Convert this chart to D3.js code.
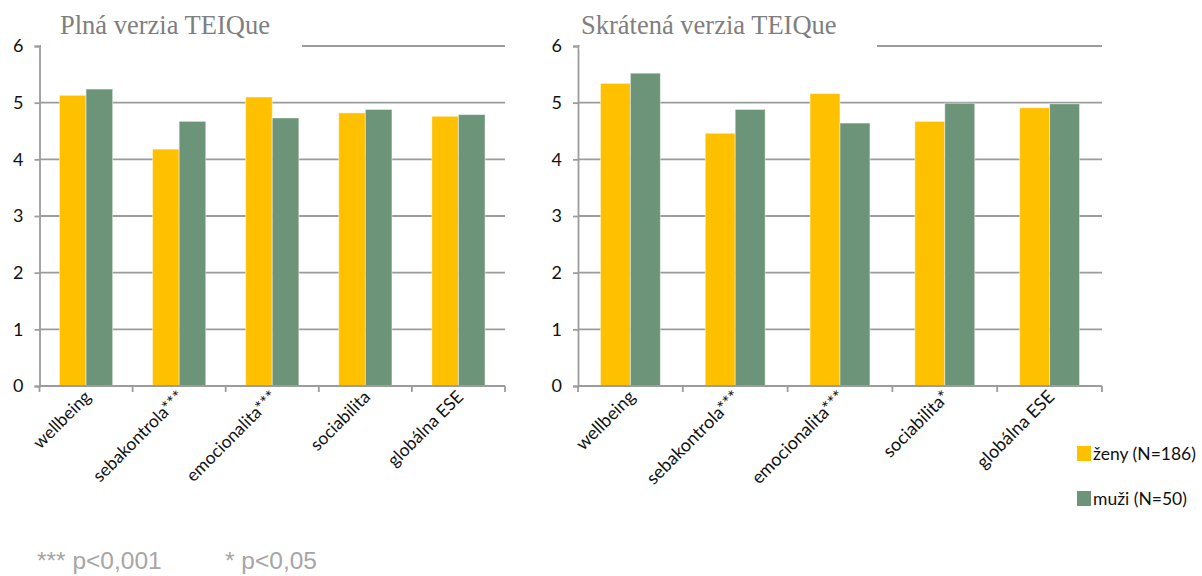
<!DOCTYPE html>
<html>
<head>
<meta charset="utf-8">
<script src="https://cdn.jsdelivr.net/npm/d3@7"></script>
<style>
  html, body { margin: 0; padding: 0; background: #fff; }
  svg { display: block; }
</style>
</head>
<body>
<svg id="chart" width="1202" height="576"></svg>
<script>
// Category labels (significance marks differ between the two versions)
const categoriesFull  = ["wellbeing", "sebakontrola***", "emocionalita***", "sociabilita", "globálna ESE"];
const categoriesShort = ["wellbeing", "sebakontrola***", "emocionalita***", "sociabilita*", "globálna ESE"];

// Mean scores, full TEIQue
const fullWomen = [5.13, 4.18, 5.10, 4.82, 4.76];
const fullMen   = [5.24, 4.67, 4.73, 4.88, 4.79];

// Mean scores, short TEIQue
const shortWomen = [5.34, 4.46, 5.16, 4.67, 4.91];
const shortMen   = [5.52, 4.88, 4.64, 4.99, 4.98];

const seriesNames = ["ženy (N=186)", "muži (N=50)"];
const yTicks = [0, 1, 2, 3, 4, 5, 6];
const panelTitles = ["Plná verzia TEIQue", "Skrátená verzia TEIQue"];
const footnote = ["*** p<0,001", "* p<0,05"];

const colors = ["#FFC000", "#6B9479"];
const gridColor = "#9c9c9c";
const labelFont = "Lato, 'Open Sans', sans-serif";

const svg = d3.select("#chart");

function drawPanel(cfg) {
  const { x0, x1, title, titleX, titleCoverEnd, cats, a, b, labelSize } = cfg;
  const yTop = 46, yBot = 386;
  const g = svg.append("g");

  const y = d3.scaleLinear().domain([0, 6]).range([yBot, yTop]);
  const x = d3.scaleBand().domain(cats).range([x0, x1])
    .paddingInner(0.4286).paddingOuter(0.2143);
  const xs = d3.scaleBand().domain([0, 1]).range([0, x.bandwidth()]);

  // horizontal gridlines
  g.selectAll("line.grid").data(yTicks.filter(d => d > 0)).join("line")
    .attr("class", "grid")
    .attr("x1", x0).attr("x2", x1)
    .attr("y1", d => y(d)).attr("y2", d => y(d))
    .attr("stroke", gridColor).attr("stroke-width", 1.8);

  // bars
  const rows = cats.map((c, i) => ({ c, v: [a[i], b[i]] }));
  const grp = g.selectAll("g.cat").data(rows).join("g")
    .attr("transform", d => `translate(${x(d.c)},0)`);
  grp.selectAll("rect").data(d => d.v.map((v, k) => ({ v, k }))).join("rect")
    .attr("x", d => xs(d.k))
    .attr("width", xs.bandwidth())
    .attr("y", d => y(d.v))
    .attr("height", d => y(0) - y(d.v))
    .attr("fill", d => colors[d.k])
    .attr("stroke", "#ffffff").attr("stroke-opacity", 0.45).attr("stroke-width", 1);

  // y axis
  const yAxis = d3.axisLeft(y).tickValues(yTicks).tickSize(5).tickPadding(11).tickFormat(d3.format("d"));
  const ya = g.append("g").attr("transform", `translate(${x0},0)`).call(yAxis);
  ya.select(".domain").attr("stroke", gridColor).attr("stroke-width", 1.8);
  ya.selectAll(".tick line").attr("stroke", gridColor).attr("stroke-width", 1.8);
  ya.selectAll(".tick text").attr("font-family", labelFont).attr("font-size", 18)
    .attr("fill", "#111");

  // x axis with ticks at category boundaries
  const bounds = d3.range(cats.length + 1).map(i => x0 + i * x.step());
  g.append("line").attr("x1", x0).attr("x2", x1).attr("y1", yBot).attr("y2", yBot)
    .attr("stroke", gridColor).attr("stroke-width", 1.8);
  g.selectAll("line.xt").data(bounds).join("line").attr("class", "xt")
    .attr("x1", d => d).attr("x2", d => d).attr("y1", yBot).attr("y2", yBot + 6)
    .attr("stroke", gridColor).attr("stroke-width", 1.8);

  // rotated category labels
  g.selectAll("text.cat").data(cats).join("text").attr("class", "cat")
    .attr("transform", d => `translate(${x(d) + x.bandwidth() / 2 + 6},${yBot + 12}) rotate(-45)`)
    .attr("text-anchor", "end")
    .attr("font-family", labelFont).attr("font-size", labelSize)
    .attr("fill", "#111")
    .text(d => d);

  // title box covering the top of the plot area
  g.append("rect").attr("x", x0 + 1.5).attr("y", 6).attr("width", titleCoverEnd - x0 - 1.5).attr("height", 44)
    .attr("fill", "#fff");
  g.append("text").attr("x", titleX).attr("y", 34)
    .attr("font-family", "'Liberation Serif', 'Times New Roman', serif")
    .attr("font-size", 26.5).attr("fill", "#7f7f7f")
    .text(title);
}

drawPanel({ x0: 39.5, x1: 505, title: panelTitles[0], titleX: 60, titleCoverEnd: 302,
  cats: categoriesFull, a: fullWomen, b: fullMen, labelSize: 17.5 });
drawPanel({ x0: 578, x1: 1102, title: panelTitles[1], titleX: 581, titleCoverEnd: 877,
  cats: categoriesShort, a: shortWomen, b: shortMen, labelSize: 18 });

// legend
const leg = svg.append("g").attr("transform", "translate(1077,446)");
seriesNames.forEach((name, i) => {
  const row = leg.append("g").attr("transform", `translate(0,${i * 45})`);
  row.append("rect").attr("x", 0).attr("y", 0).attr("width", 14).attr("height", 15).attr("fill", colors[i]);
  row.append("text").attr("x", 16).attr("y", 14)
    .attr("font-family", labelFont).attr("font-size", 17.5).attr("fill", "#111")
    .text(name);
});

// significance footnote
svg.append("text").attr("x", 37).attr("y", 569)
  .attr("font-family", "'Liberation Sans', Arial, sans-serif").attr("font-size", 24.5).attr("fill", "#a6a6a6")
  .text(footnote[0]);
svg.append("text").attr("x", 225).attr("y", 569)
  .attr("font-family", "'Liberation Sans', Arial, sans-serif").attr("font-size", 24.5).attr("fill", "#a6a6a6")
  .text(footnote[1]);
</script>
</body>
</html>
